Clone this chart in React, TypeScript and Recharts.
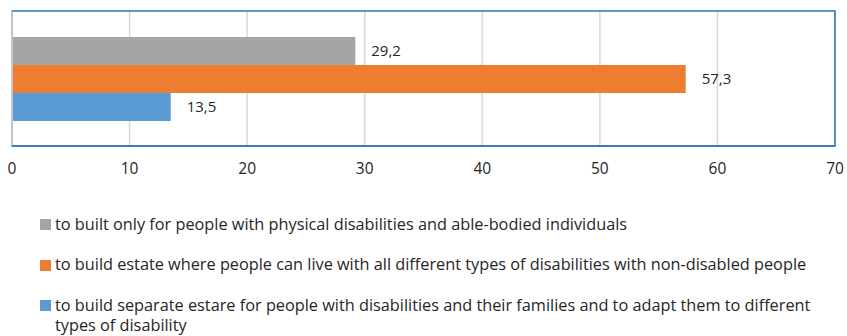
import { BarChart, Bar, XAxis, YAxis, CartesianGrid, LabelList, ReferenceArea, ReferenceLine } from 'recharts';

const seriesNames = [
    'to built only for people with physical disabilities and able-bodied individuals',
    'to build estate where people can live with all different types of disabilities with non-disabled people',
    'to build separate estare for people with disabilities and their families and to adapt them to different types of disability',
];
const seriesKeys = ['physical', 'allTypes', 'separate'];
const seriesValues = [29.2, 57.3, 13.5];
const seriesColors = ['#a5a5a5', '#ed7d31', '#5b9bd5'];
const xTicks = [0, 10, 20, 30, 40, 50, 60, 70];

const FONT = '"Open Sans", sans-serif';
const BORDER = '#2e75b6';

const row: Record<string, number | string> = { name: 'answers' };
seriesKeys.forEach((k, i) => {
    row[k] = seriesValues[i];
});
const chartData = [row];

const fmt = (v: unknown) => String(v).replace('.', ',');

export default function App() {
    return (
        <div style={{ position: 'absolute', left: 0, top: 0, width: 847, height: 336, background: '#fff', fontFamily: FONT }}>
            <BarChart
                width={847}
                height={190}
                data={chartData}
                layout="vertical"
                margin={{ top: 11, right: 12, bottom: 0, left: 12 }}
                barCategoryGap={26}
                barGap={0}
            >
                <CartesianGrid horizontal={false} stroke="#d9d9d9" strokeWidth={1.5} />
                <ReferenceArea x1={0} x2={70} fill="none" stroke={BORDER} strokeWidth={1.5} fillOpacity={0} />
                <ReferenceLine x={0} stroke="#d9d9d9" strokeWidth={1.5} />
                <XAxis
                    type="number"
                    domain={[0, 70]}
                    ticks={xTicks}
                    interval={0}
                    height={44}
                    tickLine={false}
                    tickSize={0}
                    tickMargin={17}
                    axisLine={{ stroke: BORDER, strokeWidth: 1.5 }}
                    tick={{ fill: '#262626', fontSize: 15.5, fontFamily: FONT }}
                />
                <YAxis type="category" dataKey="name" hide />
                {seriesKeys.map((k, i) => (
                    <Bar key={k} dataKey={k} fill={seriesColors[i]} isAnimationActive={false}>
                        <LabelList
                            dataKey={k}
                            position="right"
                            offset={16}
                            formatter={fmt}
                            style={{ fill: '#262626', fontSize: 15, fontFamily: FONT }}
                        />
                    </Bar>
                ))}
            </BarChart>
            <div style={{ position: 'absolute', left: 40, top: 213.7, width: 785 }}>
                {seriesNames.map((n, i) => (
                    <div key={n} style={{ display: 'flex', alignItems: 'flex-start', marginBottom: 20.75, fontSize: 16.3, lineHeight: '20px', color: '#262626' }}>
                        <span style={{ width: 11, height: 11, background: seriesColors[i], marginTop: 5.3, marginRight: 4, flex: 'none' }} />
                        <span>{n}</span>
                    </div>
                ))}
            </div>
        </div>
    );
}
